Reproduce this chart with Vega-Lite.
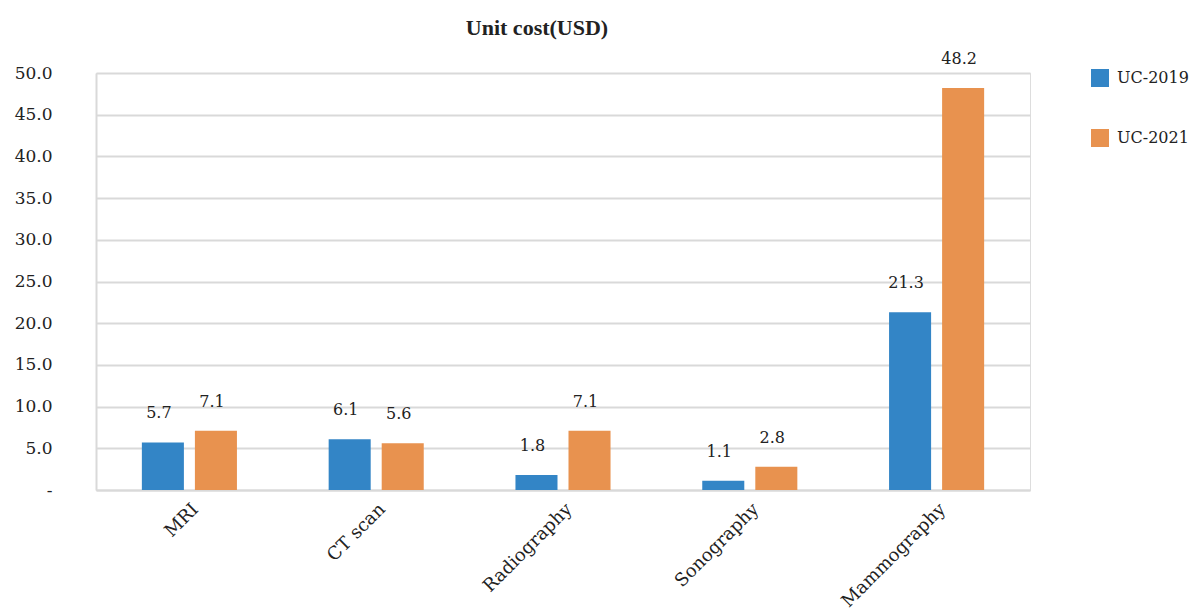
{
  "$schema": "https://vega.github.io/schema/vega-lite/v6.json",
  "autosize": "none",
  "padding": {"left": 96, "top": 73, "right": 162, "bottom": 122},
  "width": 934,
  "height": 417,
  "background": "white",
  "title": {
    "text": "Unit cost(USD)",
    "anchor": "middle",
    "frame": "group",
    "dx": -26,
    "offset": 11,
    "font": "Liberation Serif",
    "fontSize": 22,
    "fontWeight": "bold",
    "color": "#222222"
  },
  "data": {
    "values": [
      {"modality": "MRI", "series": "UC-2019", "cost": 5.7},
      {"modality": "MRI", "series": "UC-2021", "cost": 7.1},
      {"modality": "CT scan", "series": "UC-2019", "cost": 6.1},
      {"modality": "CT scan", "series": "UC-2021", "cost": 5.6},
      {"modality": "Radiography", "series": "UC-2019", "cost": 1.8},
      {"modality": "Radiography", "series": "UC-2021", "cost": 7.1},
      {"modality": "Sonography", "series": "UC-2019", "cost": 1.1},
      {"modality": "Sonography", "series": "UC-2021", "cost": 2.8},
      {"modality": "Mammography", "series": "UC-2019", "cost": 21.3},
      {"modality": "Mammography", "series": "UC-2021", "cost": 48.2}
    ]
  },
  "encoding": {
    "x": {
      "field": "modality",
      "type": "nominal",
      "sort": ["MRI", "CT scan", "Radiography", "Sonography", "Mammography"],
      "scale": {"paddingInner": 0.491, "paddingOuter": 0.2455},
      "axis": {
        "title": null,
        "labelAngle": -45,
        "labelAlign": "right",
        "labelBaseline": "top",
        "labelPadding": 10,
        "labelFont": "DejaVu Serif",
        "labelFontSize": 18,
        "labelColor": "#222222",
        "ticks": false,
        "domain": true,
        "domainColor": "#d9d9d9",
        "domainWidth": 2,
        "grid": false
      }
    },
    "xOffset": {
      "field": "series",
      "type": "nominal",
      "sort": ["UC-2019", "UC-2021"],
      "scale": {"paddingInner": 0.2075, "paddingOuter": 0}
    },
    "y": {
      "field": "cost",
      "type": "quantitative",
      "scale": {"domain": [0, 50], "nice": false},
      "axis": {
        "title": null,
        "values": [0, 5, 10, 15, 20, 25, 30, 35, 40, 45, 50],
        "labelExpr": "datum.value == 0 ? '-' : format(datum.value, '.1f')",
        "labelPadding": 44,
        "labelFont": "DejaVu Serif",
        "labelFontSize": 17,
        "labelColor": "#222222",
        "ticks": false,
        "domain": true,
        "domainColor": "#d9d9d9",
        "domainWidth": 2,
        "grid": true,
        "gridColor": "#d9d9d9",
        "gridWidth": 2
      }
    }
  },
  "layer": [
    {
      "mark": {"type": "bar"},
      "encoding": {
        "color": {
          "field": "series",
          "type": "nominal",
          "scale": {"domain": ["UC-2019", "UC-2021"], "range": ["#3385c6", "#e8924f"]},
          "legend": {
            "title": null,
            "orient": "none",
            "legendX": 995,
            "legendY": -4,
            "padding": 0,
            "symbolType": "square",
            "symbolSize": 324,
            "symbolStrokeWidth": 0,
            "labelFont": "DejaVu Serif",
            "labelFontSize": 16,
            "labelColor": "#222222",
            "labelOffset": 8,
            "rowPadding": 42
          }
        }
      }
    },
    {
      "mark": {
        "type": "text",
        "baseline": "middle",
        "align": "center",
        "dy": -29,
        "dx": -4,
        "font": "DejaVu Serif",
        "fontSize": 16,
        "color": "#222222"
      },
      "encoding": {
        "text": {"field": "cost", "type": "quantitative", "format": ".1f"}
      }
    }
  ]
}
